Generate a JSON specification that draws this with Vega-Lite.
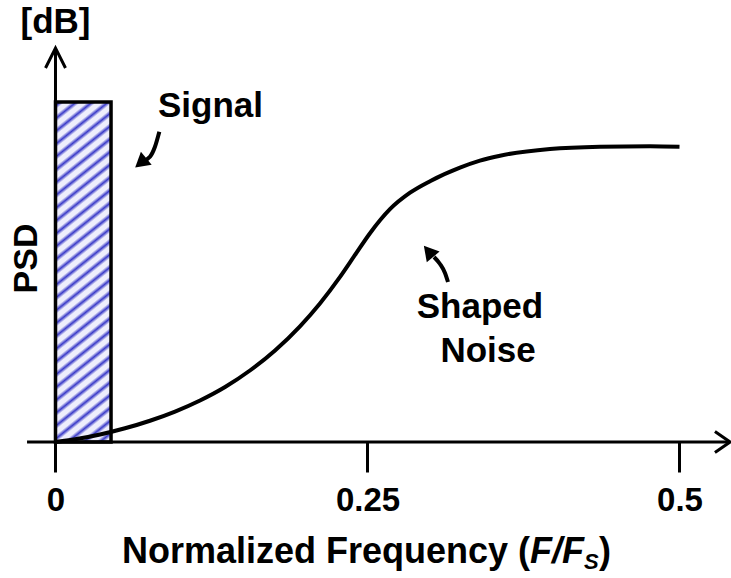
{
  "$schema": "https://vega.github.io/schema/vega-lite/v6.json",
  "width": 731,
  "height": 578,
  "autosize": "none",
  "padding": 0,
  "background": "white",
  "config": {"view": {"stroke": null}, "text": {"font": "Liberation Sans", "fontWeight": "bold", "color": "black"}},
  "datasets": {
    "band": [{"f": 0, "f2": 0.0445, "p": 0, "p2": 100}],
    "noise": [
      {"f": 0, "p": 0}, {"f": 0.018, "p": 0.94}, {"f": 0.0357, "p": 2.21}, {"f": 0.0557, "p": 4.03},
      {"f": 0.0757, "p": 6.25}, {"f": 0.0958, "p": 8.95}, {"f": 0.1158, "p": 12.21}, {"f": 0.1359, "p": 16.18},
      {"f": 0.1558, "p": 21.03}, {"f": 0.1759, "p": 26.93}, {"f": 0.1959, "p": 34.04}, {"f": 0.2119, "p": 40.76},
      {"f": 0.228, "p": 48.57}, {"f": 0.24, "p": 55.01}, {"f": 0.252, "p": 61.41}, {"f": 0.268, "p": 68.47},
      {"f": 0.2841, "p": 73.32}, {"f": 0.3001, "p": 76.71}, {"f": 0.3241, "p": 80.68}, {"f": 0.3401, "p": 82.74},
      {"f": 0.3562, "p": 84.21}, {"f": 0.3962, "p": 86.18}, {"f": 0.4363, "p": 86.85}, {"f": 0.4764, "p": 87.0},
      {"f": 0.5, "p": 86.85}
    ],
    "guides": [
      {"seg": "xaxis", "i": 0, "f": -0.0228, "p": 0}, {"seg": "xaxis", "i": 1, "f": 0.5405, "p": 0},
      {"seg": "yaxis", "i": 0, "f": 0, "p": -8.82}, {"seg": "yaxis", "i": 1, "f": 0, "p": 115.88},
      {"seg": "xhead", "i": 0, "f": 0.5284, "p": 3.1}, {"seg": "xhead", "i": 1, "f": 0.5405, "p": 0}, {"seg": "xhead", "i": 2, "f": 0.5284, "p": -3.1},
      {"seg": "yhead", "i": 0, "f": -0.008, "p": 110.0}, {"seg": "yhead", "i": 1, "f": 0, "p": 115.88}, {"seg": "yhead", "i": 2, "f": 0.008, "p": 110.0}
    ],
    "shafts": [
      {"seg": "signal", "i": 0, "f": 0.0832, "p": 91.26}, {"seg": "signal", "i": 1, "f": 0.0797, "p": 86.85},
      {"seg": "signal", "i": 2, "f": 0.0757, "p": 83.91}, {"seg": "signal", "i": 3, "f": 0.0701, "p": 82.65},
      {"seg": "noise", "i": 0, "f": 0.3145, "p": 47.06}, {"seg": "noise", "i": 1, "f": 0.3121, "p": 49.71},
      {"seg": "noise", "i": 2, "f": 0.3081, "p": 52.35}, {"seg": "noise", "i": 3, "f": 0.3033, "p": 54.41}
    ],
    "labels": [
      {"f": 0, "p": 120.15, "text": "[dB]"},
      {"f": 0.1242, "p": 95.68, "text": "Signal"},
      {"f": 0.3401, "p": 36.47, "text": "Shaped"},
      {"f": 0.3466, "p": 23.62, "text": "Noise"}
    ]
  },
  "encoding": {
    "x": {
      "field": "f", "type": "quantitative",
      "scale": {"domain": [-0.04447, 0.54127], "nice": false, "zero": false},
      "axis": {
        "values": [0, 0.25, 0.5], "labelExpr": "format(datum.value, '')", "offset": -136, "domain": false, "grid": false,
        "tickSize": 30, "tickWidth": 3, "tickColor": "black",
        "labelFont": "Liberation Sans", "labelFontSize": 33, "labelFontWeight": "bold", "labelColor": "black",
        "labelBaseline": "alphabetic", "labelPadding": 38, "labelFlush": false, "labelOverlap": false, "title": null
      }
    },
    "y": {
      "field": "p", "type": "quantitative",
      "scale": {"domain": [-40, 130], "nice": false, "zero": false},
      "axis": null
    }
  },
  "layer": [
    {
      "data": {"name": "band"},
      "mark": {
        "type": "rect",
        "stroke": "black",
        "strokeWidth": 3.5,
        "fill": {
          "gradient": "linear", "x1": 0, "y1": 0, "x2": 0.1452, "y2": 1.1116,
          "stops": [
            {"offset": 0, "color": "#eeeefc"}, {"offset": 0.01, "color": "#3a3ac8"}, {"offset": 0.02, "color": "#eeeefc"},
            {"offset": 0.03333, "color": "#eeeefc"}, {"offset": 0.04333, "color": "#3a3ac8"}, {"offset": 0.05333, "color": "#eeeefc"},
            {"offset": 0.06667, "color": "#eeeefc"}, {"offset": 0.07667, "color": "#3a3ac8"}, {"offset": 0.08667, "color": "#eeeefc"},
            {"offset": 0.1, "color": "#eeeefc"}, {"offset": 0.11, "color": "#3a3ac8"}, {"offset": 0.12, "color": "#eeeefc"},
            {"offset": 0.13333, "color": "#eeeefc"}, {"offset": 0.14333, "color": "#3a3ac8"}, {"offset": 0.15333, "color": "#eeeefc"},
            {"offset": 0.16667, "color": "#eeeefc"}, {"offset": 0.17667, "color": "#3a3ac8"}, {"offset": 0.18667, "color": "#eeeefc"},
            {"offset": 0.2, "color": "#eeeefc"}, {"offset": 0.21, "color": "#3a3ac8"}, {"offset": 0.22, "color": "#eeeefc"},
            {"offset": 0.23333, "color": "#eeeefc"}, {"offset": 0.24333, "color": "#3a3ac8"}, {"offset": 0.25333, "color": "#eeeefc"},
            {"offset": 0.26667, "color": "#eeeefc"}, {"offset": 0.27667, "color": "#3a3ac8"}, {"offset": 0.28667, "color": "#eeeefc"},
            {"offset": 0.3, "color": "#eeeefc"}, {"offset": 0.31, "color": "#3a3ac8"}, {"offset": 0.32, "color": "#eeeefc"},
            {"offset": 0.33333, "color": "#eeeefc"}, {"offset": 0.34333, "color": "#3a3ac8"}, {"offset": 0.35333, "color": "#eeeefc"},
            {"offset": 0.36667, "color": "#eeeefc"}, {"offset": 0.37667, "color": "#3a3ac8"}, {"offset": 0.38667, "color": "#eeeefc"},
            {"offset": 0.4, "color": "#eeeefc"}, {"offset": 0.41, "color": "#3a3ac8"}, {"offset": 0.42, "color": "#eeeefc"},
            {"offset": 0.43333, "color": "#eeeefc"}, {"offset": 0.44333, "color": "#3a3ac8"}, {"offset": 0.45333, "color": "#eeeefc"},
            {"offset": 0.46667, "color": "#eeeefc"}, {"offset": 0.47667, "color": "#3a3ac8"}, {"offset": 0.48667, "color": "#eeeefc"},
            {"offset": 0.5, "color": "#eeeefc"}, {"offset": 0.51, "color": "#3a3ac8"}, {"offset": 0.52, "color": "#eeeefc"},
            {"offset": 0.53333, "color": "#eeeefc"}, {"offset": 0.54333, "color": "#3a3ac8"}, {"offset": 0.55333, "color": "#eeeefc"},
            {"offset": 0.56667, "color": "#eeeefc"}, {"offset": 0.57667, "color": "#3a3ac8"}, {"offset": 0.58667, "color": "#eeeefc"},
            {"offset": 0.6, "color": "#eeeefc"}, {"offset": 0.61, "color": "#3a3ac8"}, {"offset": 0.62, "color": "#eeeefc"},
            {"offset": 0.63333, "color": "#eeeefc"}, {"offset": 0.64333, "color": "#3a3ac8"}, {"offset": 0.65333, "color": "#eeeefc"},
            {"offset": 0.66667, "color": "#eeeefc"}, {"offset": 0.67667, "color": "#3a3ac8"}, {"offset": 0.68667, "color": "#eeeefc"},
            {"offset": 0.7, "color": "#eeeefc"}, {"offset": 0.71, "color": "#3a3ac8"}, {"offset": 0.72, "color": "#eeeefc"},
            {"offset": 0.73333, "color": "#eeeefc"}, {"offset": 0.74333, "color": "#3a3ac8"}, {"offset": 0.75333, "color": "#eeeefc"},
            {"offset": 0.76667, "color": "#eeeefc"}, {"offset": 0.77667, "color": "#3a3ac8"}, {"offset": 0.78667, "color": "#eeeefc"},
            {"offset": 0.8, "color": "#eeeefc"}, {"offset": 0.81, "color": "#3a3ac8"}, {"offset": 0.82, "color": "#eeeefc"},
            {"offset": 0.83333, "color": "#eeeefc"}, {"offset": 0.84333, "color": "#3a3ac8"}, {"offset": 0.85333, "color": "#eeeefc"},
            {"offset": 0.86667, "color": "#eeeefc"}, {"offset": 0.87667, "color": "#3a3ac8"}, {"offset": 0.88667, "color": "#eeeefc"},
            {"offset": 0.9, "color": "#eeeefc"}, {"offset": 0.91, "color": "#3a3ac8"}, {"offset": 0.92, "color": "#eeeefc"},
            {"offset": 0.93333, "color": "#eeeefc"}, {"offset": 0.94333, "color": "#3a3ac8"}, {"offset": 0.95333, "color": "#eeeefc"},
            {"offset": 0.96667, "color": "#eeeefc"}, {"offset": 0.97667, "color": "#3a3ac8"}, {"offset": 0.98667, "color": "#eeeefc"},
            {"offset": 1, "color": "#eeeefc"}
          ]
        }
      },
      "encoding": {
        "x2": {"field": "f2"},
        "y2": {"field": "p2"}
      }
    },
    {
      "data": {"name": "noise"},
      "mark": {"type": "line", "color": "black", "strokeWidth": 4, "interpolate": "monotone"}
    },
    {
      "data": {"name": "guides"},
      "mark": {"type": "line", "color": "black", "strokeWidth": 3, "strokeJoin": "miter"},
      "encoding": {
        "detail": {"field": "seg"},
        "order": {"field": "i"}
      }
    },
    {
      "data": {"name": "shafts"},
      "mark": {"type": "line", "color": "black", "strokeWidth": 4, "interpolate": "monotone"},
      "encoding": {
        "detail": {"field": "seg"},
        "order": {"field": "i"}
      }
    },
    {
      "data": {"values": [{"f": 0.0683, "p": 82.09}]},
      "mark": {"type": "point", "shape": "triangle-up", "filled": true, "color": "black", "opacity": 1, "size": 280, "angle": 230}
    },
    {
      "data": {"values": [{"f": 0.2989, "p": 56.06}]},
      "mark": {"type": "point", "shape": "triangle-up", "filled": true, "color": "black", "opacity": 1, "size": 280, "angle": 320}
    },
    {
      "data": {"name": "labels"},
      "mark": {"type": "text", "fontSize": 35, "align": "center", "baseline": "alphabetic"},
      "encoding": {"text": {"field": "text"}}
    },
    {
      "data": {"values": [{"f": -0.0148, "p": 53.97, "text": "PSD"}]},
      "mark": {"type": "text", "fontSize": 34, "align": "center", "baseline": "alphabetic", "angle": 270},
      "encoding": {"text": {"field": "text"}}
    },
    {
      "data": {"values": [{"f": 0.3802, "p": -35.59, "text": "Normalized Frequency ("}]},
      "mark": {"type": "text", "fontSize": 36, "align": "right", "baseline": "alphabetic"},
      "encoding": {"text": {"field": "text"}}
    },
    {
      "data": {"values": [{"f": 0.3802, "p": -35.59, "text": "F/F"}]},
      "mark": {"type": "text", "fontSize": 36, "fontStyle": "italic", "align": "left", "baseline": "alphabetic"},
      "encoding": {"text": {"field": "text"}}
    },
    {
      "data": {"values": [{"f": 0.4235, "p": -37.35, "text": "S"}]},
      "mark": {"type": "text", "fontSize": 22, "fontStyle": "italic", "align": "left", "baseline": "alphabetic"},
      "encoding": {"text": {"field": "text"}}
    },
    {
      "data": {"values": [{"f": 0.4355, "p": -35.59, "text": ")"}]},
      "mark": {"type": "text", "fontSize": 36, "align": "left", "baseline": "alphabetic"},
      "encoding": {"text": {"field": "text"}}
    }
  ]
}
